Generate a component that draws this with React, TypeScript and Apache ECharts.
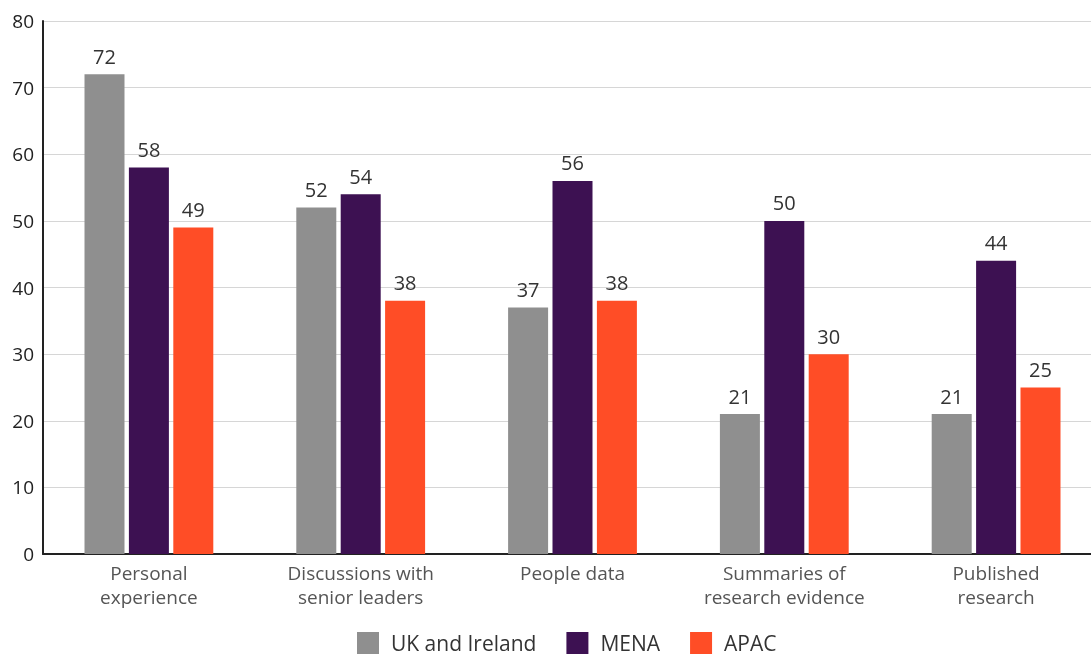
import React, { useEffect, useRef } from "react";
import * as echarts from "echarts";

const categories = [
  "Personal\nexperience",
  "Discussions with\nsenior leaders",
  "People data",
  "Summaries of\nresearch evidence",
  "Published\nresearch",
];
const seriesNames = ["UK and Ireland", "MENA", "APAC"];
const ukIreland = [72, 52, 37, 21, 21];
const mena = [58, 54, 56, 50, 44];
const apac = [49, 38, 38, 30, 25];
const colors = ["#8f8f8f", "#3d1152", "#ff4d26"];

const FONT = "'Open Sans', 'Noto Sans', sans-serif";

export default function App() {
  const ref = useRef<HTMLDivElement>(null);
  useEffect(() => {
    if (!ref.current) return;
    const chart = echarts.init(ref.current, null, { renderer: "svg" });
    const values = [ukIreland, mena, apac];
    chart.setOption({
      animation: false,
      textStyle: { fontFamily: FONT },
      // the plot runs a little past the right edge, so the last group sits close to it
      grid: {
        left: 43,
        top: 21,
        width: 1059,
        height: 533,
        containLabel: false,
        outerBoundsMode: "none",
      },
      legend: {
        bottom: -3,
        left: 352,
        itemWidth: 22,
        itemHeight: 22,
        itemGap: 30,
        icon: "rect",
        textStyle: {
          fontSize: 21,
          lineHeight: 21,
          color: "#333",
          fontFamily: FONT,
          padding: [0, 0, 0, 7],
        },
        data: seriesNames,
      },
      xAxis: {
        type: "category",
        data: categories,
        axisLine: { lineStyle: { color: "#222", width: 2 } },
        axisTick: { show: false },
        axisLabel: {
          color: "#555",
          fontSize: 19,
          lineHeight: 24,
          margin: 7,
          fontFamily: FONT,
        },
      },
      yAxis: {
        type: "value",
        min: 0,
        max: 80,
        interval: 10,
        axisLine: { show: true, lineStyle: { color: "#222", width: 2 } },
        axisTick: { show: false },
        splitLine: { lineStyle: { color: "#d6d6d6", width: 1 } },
        axisLabel: { color: "#222", fontSize: 19, margin: 9, fontFamily: FONT },
      },
      series: seriesNames.map((name, i) => ({
        name,
        type: "bar",
        data: values[i],
        barWidth: 40,
        barGap: "11%",
        itemStyle: { color: colors[i] },
        label: {
          show: true,
          position: "top",
          distance: 8,
          color: "#333",
          fontSize: 20,
          fontFamily: FONT,
        },
      })),
    });
    return () => chart.dispose();
  }, []);
  return (
    <div
      ref={ref}
      style={{ position: "fixed", left: 0, top: 0, width: 1091, height: 656, overflow: "hidden" }}
    />
  );
}
